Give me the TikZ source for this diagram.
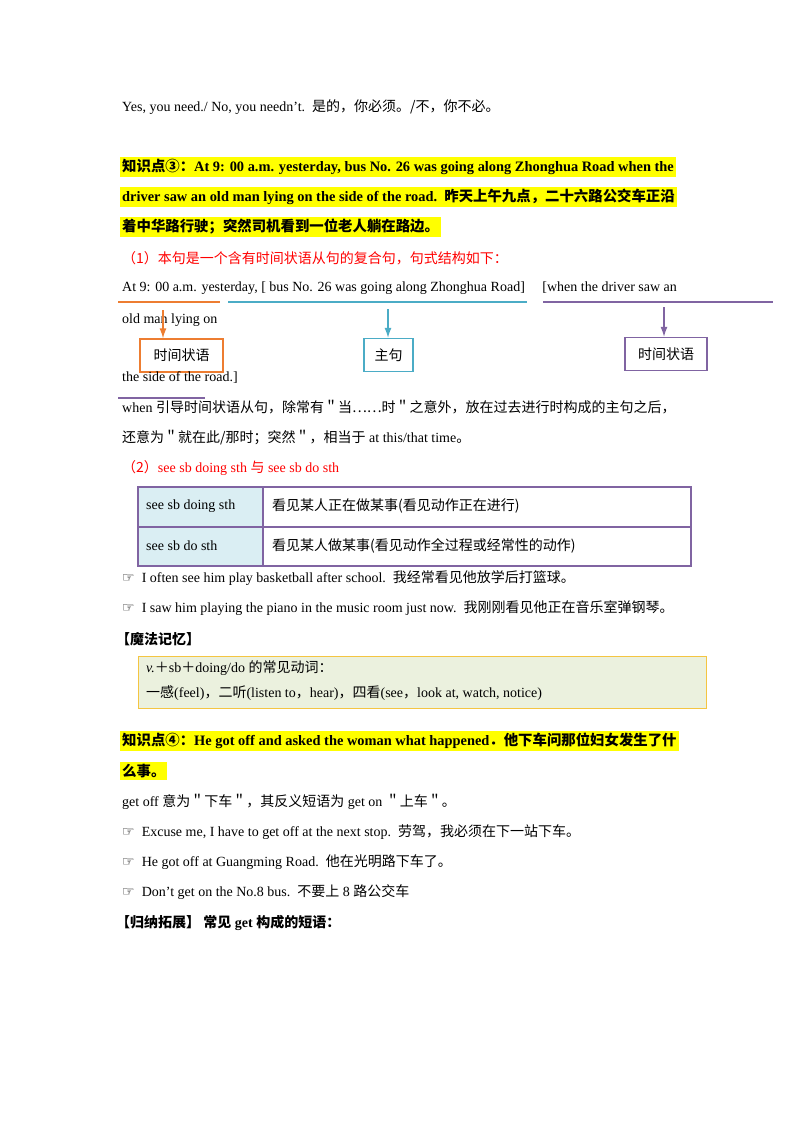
\documentclass[tikz,border=0pt]{standalone}
\usetikzlibrary{arrows.meta}
\usepackage{fontspec}
\setmainfont{Liberation Serif}
\newfontfamily\cjk{Noto Sans CJK SC}
\newfontfamily\sym{DejaVu Sans}
\newcommand{\zh}[1]{{\cjk #1}}
\newcommand{\hand}{{\sym ☞}}
\definecolor{hl}{HTML}{FFFF00}
\definecolor{orng}{HTML}{ED7D31}
\definecolor{teal}{HTML}{4BACC6}
\definecolor{purp}{HTML}{8064A2}
\definecolor{lblue}{HTML}{DAEEF3}
\definecolor{lgreen}{HTML}{EBF1DE}
\definecolor{gold}{HTML}{F4C542}
\begin{document}
\begin{tikzpicture}[x=1pt,y=-1pt,
  txt/.style={anchor=west,inner sep=0pt,font=\fontsize{14}{16}\selectfont},
  hltxt/.style={txt,fill=hl,inner sep=2pt,font=\fontsize{14.4}{16}\selectfont\bfseries},
  lbl/.style={draw,line width=1.3pt,minimum height=33pt,inner sep=0pt,font=\fontsize{14}{16}\selectfont\cjk},
  arr/.style={-{Latex[length=10pt,width=7pt]},line width=1.3pt}]
\useasboundingbox (0,0) rectangle (800,1132);
\fill[white] (0,0) rectangle (800,1132);
\node[txt] (l1) at (122,107) {Yes, you need./ No, you needn't.\ \ \zh{是的，你必须。/不，你不必。}};
\node[hltxt] (h1) at (120,167) {\zh{知识点③：}At 9: 00 a.m. yesterday, bus No. 26 was going along Zhonghua Road when the};
\node[hltxt] (h2) at (120,197) {driver saw an old man lying on the side of the road.\ \ \zh{昨天上午九点，二十六路公交车正沿}};
\node[hltxt] (h3) at (120,227) {\zh{着中华路行驶；突然司机看到一位老人躺在路边。}};
\node[txt,text=red] (r1) at (122,258) {\zh{（1）本句是一个含有时间状语从句的复合句，句式结构如下：}};
\node[txt] (s1) at (122,288) {At 9: 00 a.m. yesterday, [ bus No. 26 was going along Zhonghua Road]\quad\ [when the driver saw an};
\draw[orng,line width=1.3pt] (118,302) -- (220,302);
\draw[teal,line width=1.3pt] (228,302) -- (527,302);
\draw[purp,line width=1.3pt] (543,302) -- (773,302);
\node[txt] (s2) at (122,320) {old man lying on};
\node[lbl,orng,minimum width=83pt,text=black] (b1) at (181.5,355.5) {时间状语};
\node[lbl,teal,minimum width=49pt,text=black] (b2) at (388.5,355) {主句};
\node[lbl,purp,minimum width=82pt,text=black] (b3) at (666,354) {时间状语};
\coordinate (a1) at (163,310);
\coordinate (a2) at (388,309);
\coordinate (a3) at (664,307);
\draw[arr,orng] (a1) -- (a1 |- b1.north);
\draw[arr,teal] (a2) -- (a2 |- b2.north);
\draw[arr,purp] (a3) -- (a3 |- b3.north);
\node[txt] (s3) at (122,378) {the side of the road.]};
\draw[purp,line width=1.3pt] (118,398) -- (205,398);
\node[txt] (w1) at (122,407) {when \zh{引导时间状语从句，除常有＂当……时＂之意外，放在过去进行时构成的主句之后，}};
\node[txt] (w2) at (122,438) {\zh{还意为＂就在此/那时；突然＂，相当于} at this/that time\zh{。}};
\node[txt,text=red] (r2) at (122,468) {\zh{（2）}see sb doing sth \zh{与} see sb do sth};
\fill[lblue] (138,487) rectangle (263,566);
\draw[purp,line width=1.5pt] (138,487) rectangle (691,566);
\draw[purp,line width=1.5pt] (138,527) -- (691,527) (263,487) -- (263,566);
\node[txt] (t1) at (146,506) {see sb doing sth};
\node[txt] (t2) at (146,546) {see sb do sth};
\node[txt] (t3) at (272,506) {\zh{看见某人正在做某事(看见动作正在进行)}};
\node[txt] (t4) at (272,546) {\zh{看见某人做某事(看见动作全过程或经常性的动作)}};
\node[txt] (e1) at (122,578) {\hand\ \ I often see him play basketball after school.\ \ \zh{我经常看见他放学后打篮球。}};
\node[txt] (e2) at (122,608) {\hand\ \ I saw him playing the piano in the music room just now.\ \ \zh{我刚刚看见他正在音乐室弹钢琴。}};
\node[txt,font=\fontsize{14}{16}\selectfont\cjk\bfseries] (m0) at (116,639) {【魔法记忆】};
\draw[gold,fill=lgreen,line width=1pt] (138,656) rectangle (706,708);
\node[txt] (m1) at (146,668) {\textit{v.}\zh{＋}sb\zh{＋}doing/do \zh{的常见动词：}};
\node[txt] (m2) at (146,693) {\zh{一感}(feel)\zh{，二听}(listen to\zh{，}hear)\zh{，四看}(see\zh{，}look at, watch, notice)};
\node[hltxt] (k1) at (120,741) {\zh{知识点④：}He got off and asked the woman what happened\zh{．他下车问那位妇女发生了什}};
\node[hltxt] (k2) at (120,771) {\zh{么事。}};
\node[txt] (g1) at (122,802) {get off \zh{意为＂下车＂，其反义短语为} get on \zh{＂上车＂。}};
\node[txt] (g2) at (122,832) {\hand\ \ Excuse me, I have to get off at the next stop.\ \ \zh{劳驾，我必须在下一站下车。}};
\node[txt] (g3) at (122,862) {\hand\ \ He got off at Guangming Road.\ \ \zh{他在光明路下车了。}};
\node[txt] (g4) at (122,892) {\hand\ \ Don't get on the No.8 bus.\ \ \zh{不要上} 8 \zh{路公交车}};
\node[txt,font=\fontsize{14}{16}\selectfont\bfseries] (g5) at (116,923) {\zh{【归纳拓展】\ 常见} get \zh{构成的短语：}};
\end{tikzpicture}
\end{document}
